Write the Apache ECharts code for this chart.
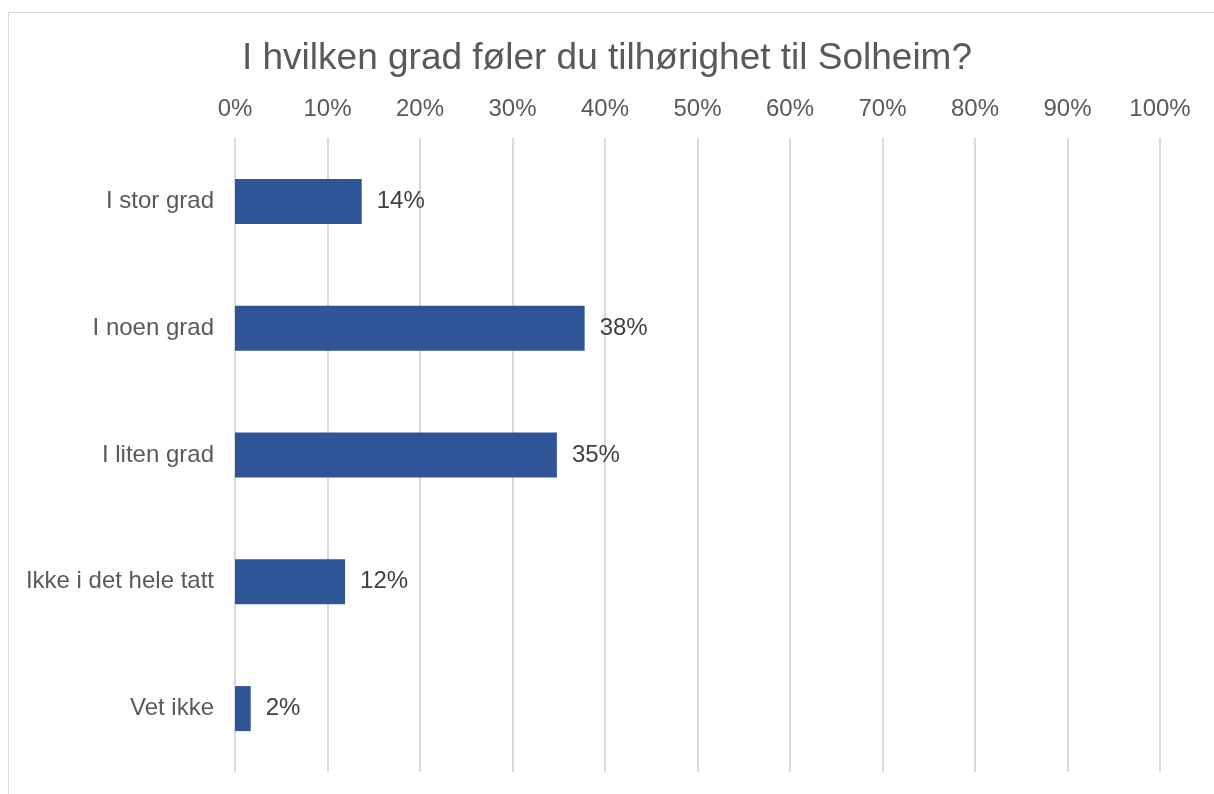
<!DOCTYPE html>
<html lang="no">
  <head>
    <meta charset="UTF-8" />
    <title>Tilhørighet til Solheim</title>
    <script src="https://cdn.jsdelivr.net/npm/echarts@6/dist/echarts.min.js"></script>
    <style>
      html, body { margin: 0; padding: 0; background: #fff; overflow: hidden; }
      #frame { position: absolute; left: 8px; top: 12px; width: 1240px; height: 820px; border: 1px solid #d9d9d9; box-sizing: border-box; }
      #chart { position: absolute; left: 0; top: 0; width: 1214px; height: 794px; }
    </style>
  </head>
  <body>
    <div id="frame"></div>
    <div id="chart"></div>
    <script>
      var categories = ['I stor grad', 'I noen grad', 'I liten grad', 'Ikke i det hele tatt', 'Vet ikke'];
      var shares = [13.7, 37.8, 34.8, 11.9, 1.7]; // prosent
      var tickLabels = ['0%', '10%', '20%', '30%', '40%', '50%', '60%', '70%', '80%', '90%', '100%'];

      var chart = echarts.init(document.getElementById('chart'));

      var option = {
        animation: false,
        textStyle: { fontFamily: 'Liberation Sans' },
        title: {
          text: 'I hvilken grad føler du tilhørighet til Solheim?',
          left: 'center',
          top: 35,
          textStyle: { color: '#595959', fontSize: 37, fontWeight: 'normal', fontFamily: 'Liberation Sans' }
        },
        grid: { left: 235, right: 54, top: 138, bottom: 22, containLabel: false },
        xAxis: {
          type: 'value',
          position: 'top',
          min: 0,
          max: 100,
          interval: 10,
          axisLine: { show: false },
          axisTick: { show: false },
          axisLabel: {
            color: '#595959',
            fontSize: 24,
            margin: 17,
            formatter: function (v) { return tickLabels[Math.round(v / 10)]; }
          },
          splitLine: { lineStyle: { color: '#d9d9d9', width: 2 } }
        },
        yAxis: {
          type: 'category',
          inverse: true,
          data: categories,
          axisLine: { show: false },
          axisTick: { show: false },
          axisLabel: { color: '#595959', fontSize: 24, margin: 21 }
        },
        series: [
          {
            type: 'bar',
            data: shares,
            barWidth: 45,
            itemStyle: { color: '#2f5597' },
            label: {
              show: true,
              position: 'right',
              distance: 15,
              color: '#404040',
              fontSize: 24,
              formatter: function (p) { return Math.round(p.value) + '%'; }
            }
          }
        ]
      };

      chart.setOption(option);
    </script>
  </body>
</html>
